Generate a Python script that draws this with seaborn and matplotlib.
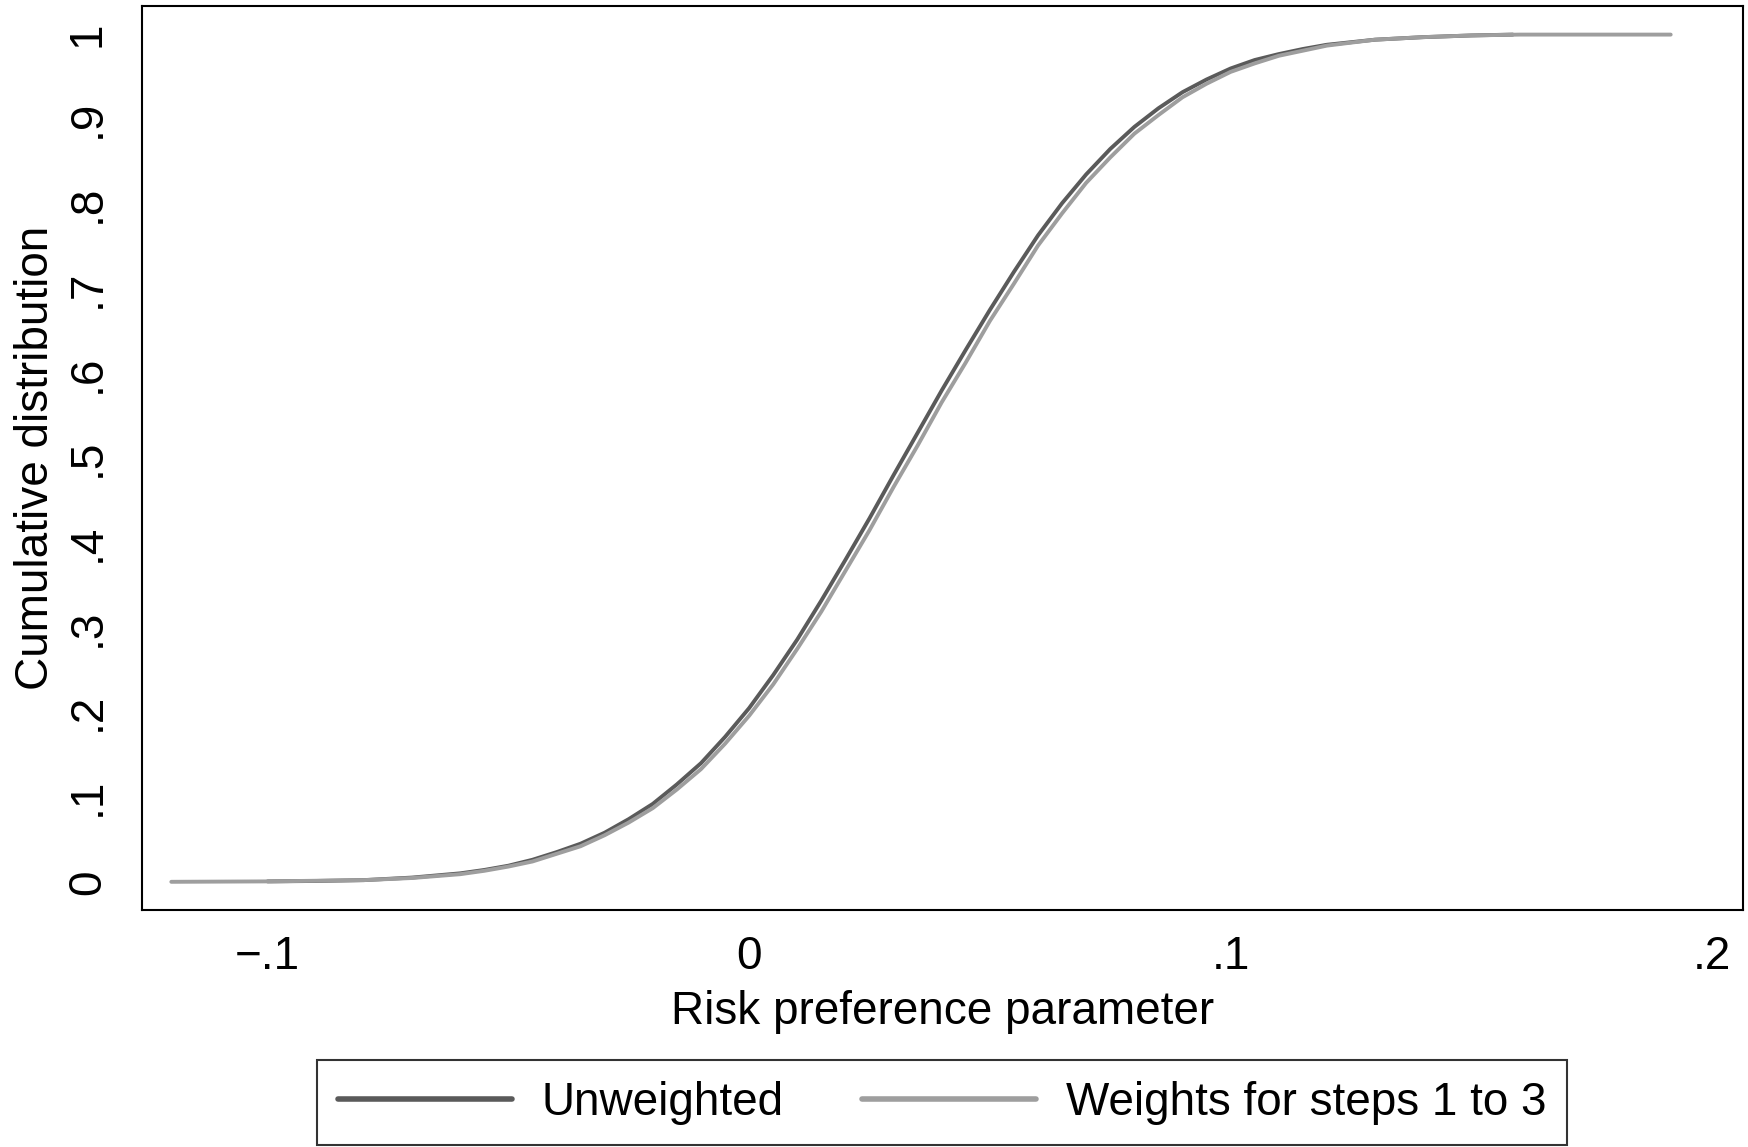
import matplotlib
matplotlib.use("Agg")
import matplotlib.pyplot as plt
import seaborn as sns
import pandas as pd
from matplotlib.lines import Line2D

# ---- data ----
unweighted_x = [-0.100, -0.090, -0.080, -0.070, -0.060, -0.055, -0.050, -0.045, -0.040,
                -0.035, -0.030, -0.025, -0.020, -0.015, -0.010, -0.005, 0.000, 0.005,
                0.010, 0.015, 0.020, 0.025, 0.030, 0.035, 0.040, 0.045, 0.050, 0.055,
                0.060, 0.065, 0.070, 0.075, 0.080, 0.085, 0.090, 0.095, 0.100, 0.105,
                0.110, 0.115, 0.120, 0.130, 0.140, 0.150, 0.1586]
unweighted_y = [0.0005, 0.001, 0.002, 0.005, 0.010, 0.014, 0.019, 0.026, 0.035,
                0.045, 0.058, 0.074, 0.092, 0.115, 0.140, 0.171, 0.205, 0.244,
                0.286, 0.332, 0.380, 0.429, 0.480, 0.530, 0.580, 0.628, 0.675, 0.720,
                0.763, 0.801, 0.835, 0.865, 0.891, 0.913, 0.932, 0.947, 0.960, 0.970,
                0.977, 0.983, 0.988, 0.994, 0.997, 0.999, 1.000]

weighted_x = [-0.120, -0.100, -0.080, -0.070, -0.060, -0.055, -0.050, -0.045, -0.040,
              -0.035, -0.030, -0.025, -0.020, -0.015, -0.010, -0.005, 0.000, 0.005,
              0.010, 0.015, 0.020, 0.025, 0.030, 0.035, 0.040, 0.045, 0.050, 0.055,
              0.060, 0.065, 0.070, 0.075, 0.080, 0.085, 0.090, 0.095, 0.100, 0.105,
              0.110, 0.115, 0.120, 0.130, 0.140, 0.150, 0.160, 0.1914]
weighted_y = [0.000, 0.0005, 0.002, 0.0045, 0.009, 0.013, 0.018, 0.024, 0.033,
              0.042, 0.055, 0.070, 0.087, 0.109, 0.133, 0.163, 0.196, 0.233,
              0.275, 0.319, 0.367, 0.415, 0.466, 0.515, 0.566, 0.613, 0.662, 0.706,
              0.751, 0.789, 0.825, 0.855, 0.883, 0.905, 0.926, 0.942, 0.956, 0.966,
              0.975, 0.981, 0.987, 0.994, 0.997, 0.999, 1.000, 1.000]

series_names = ["Unweighted", "Weights for steps 1 to 3"]
series_colors = ["#5a5a5a", "#9e9e9e"]

x_ticks = [-0.1, 0.0, 0.1, 0.2]
x_tick_labels = ["\u2212.1", "0", ".1", ".2"]
y_ticks = [0, 0.1, 0.2, 0.3, 0.4, 0.5, 0.6, 0.7, 0.8, 0.9, 1.0]
y_tick_labels = ["0", ".1", ".2", ".3", ".4", ".5", ".6", ".7", ".8", ".9", "1"]

df = pd.concat([
    pd.DataFrame({"x": unweighted_x, "y": unweighted_y, "series": series_names[0]}),
    pd.DataFrame({"x": weighted_x, "y": weighted_y, "series": series_names[1]}),
], ignore_index=True)

sns.set_theme(style="white")
plt.rcParams["font.family"] = ["Liberation Sans", "DejaVu Sans"]
plt.rcParams["text.color"] = "black"
plt.rcParams["axes.labelcolor"] = "black"
plt.rcParams["xtick.color"] = "black"
plt.rcParams["ytick.color"] = "black"

fig = plt.figure(figsize=(17.48, 11.47), dpi=100)
ax = fig.add_axes([0.0812, 0.2066, 0.9159, 0.7882])

sns.lineplot(data=df, x="x", y="y", hue="series", hue_order=series_names,
             palette=series_colors, linewidth=2.8, sort=False, estimator=None,
             legend=False, ax=ax)

ax.set_xlim(-0.1261, 0.2064)
ax.set_ylim(-0.0333, 1.0338)
ax.set_xticks(x_ticks)
ax.set_xticklabels(x_tick_labels, fontsize=33)
ax.set_yticks(y_ticks)
ax.set_yticklabels(y_tick_labels, fontsize=33, rotation=90, va="center")
ax.tick_params(axis="both", direction="out", length=15, width=1.5, color="black",
               labelcolor="black")
ax.tick_params(axis="x", pad=3)
ax.tick_params(axis="y", pad=8)
for s in ax.spines.values():
    s.set_color("black")
    s.set_linewidth(1.5)
ax.set_xlabel("Risk preference parameter", fontsize=33, labelpad=8, color="black")
ax.set_ylabel("Cumulative distribution", fontsize=33, labelpad=6, color="black")

handles = [Line2D([0], [0], color=c, lw=4) for c in series_colors]
leg = fig.legend(handles, series_names, loc="center", bbox_to_anchor=(0.539, 0.0385),
                 ncol=2, fontsize=33, frameon=True, fancybox=False,
                 handlelength=3.8, handletextpad=0.65, columnspacing=1.7,
                 borderpad=0.45, borderaxespad=0)
leg.get_frame().set_edgecolor("black")
leg.get_frame().set_linewidth(1.5)
for t in leg.get_texts():
    t.set_color("black")

fig.savefig("out.png", dpi=100, facecolor="white")
